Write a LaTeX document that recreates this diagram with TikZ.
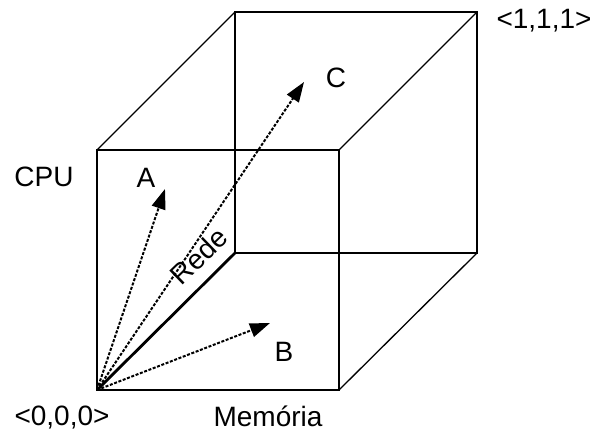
\documentclass[tikz,border=0pt]{standalone}
\usepackage{fontspec}
\setmainfont{Liberation Sans}
\usetikzlibrary{arrows.meta}
\begin{document}
\begin{tikzpicture}[x=1pt,y=-1pt,
  edge/.style={line width=1.3pt},
  axis/.style={line width=2.8pt},
  vec/.style={line width=2pt, dash pattern=on 3pt off 1.6pt, -{Triangle[length=20pt,width=14pt]}},
  lbl/.style={font=\fontsize{28}{28}\selectfont, inner sep=0pt}]
\useasboundingbox (0,0) rectangle (595,434);
% front face
\coordinate (o) at (97,390);
\coordinate (fx) at (339,390);
\coordinate (fy) at (97,150);
\coordinate (fxy) at (339,150);
% back face
\coordinate (z) at (235,253);
\coordinate (bx) at (477,253);
\coordinate (by) at (235,12);
\coordinate (bxy) at (477,12);
% thin edges
\draw[edge] (fy) -- (fxy) -- (fx);
\draw[edge] (z) -- (bx) -- (bxy) -- (by) -- cycle;
\draw[edge] (fy) -- (by);
\draw[edge] (fxy) -- (bxy);
\draw[edge] (fx) -- (bx);
% thick axes
\draw[axis, line cap=rect] (fy) -- (o) -- (fx);
\draw[axis] (o) -- (z);
% vectors
\coordinate (ta) at (165,189);
\coordinate (tb) at (270,323);
\coordinate (tc) at (304,82);
\draw[vec] (o) -- (ta);
\draw[vec] (o) -- (tb);
\draw[vec] (o) -- (tc);
% labels
\node[lbl] (la) at (146,178) {A};
\node[lbl] (lb) at (284,352) {B};
\node[lbl] (lc) at (336,78) {C};
\node[lbl] (cpu) at (44,177) {CPU};
\node[lbl] (o0) at (62,418) {<0,0,0>};
\node[lbl] (mem) at (268,416) {Memória};
\node[lbl] (o1) at (544,21) {<1,1,1>};
\node[lbl, rotate=44] (rede) at (199,256) {Rede};
\end{tikzpicture}
\end{document}
